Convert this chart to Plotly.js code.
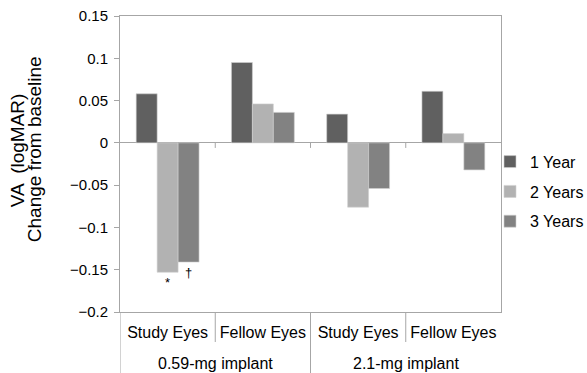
<!DOCTYPE html>
<html>
<head>
<meta charset="utf-8">
<script src="https://cdn.plot.ly/plotly-3.0.1.min.js"></script>
<style>html,body{margin:0;padding:0;background:#fff}#chart{width:587px;height:373px}</style>
</head>
<body>
<div id="chart"></div>
<script>
const implants = ["0.59-mg implant", "0.59-mg implant", "2.1-mg implant", "2.1-mg implant"];
const eyes = ["Study Eyes", "Fellow Eyes", "Study Eyes", "Fellow Eyes"];
const year1 = [0.058, 0.095, 0.034, 0.061];
const year2 = [-0.153, 0.046, -0.076, 0.011];
const year3 = [-0.141, 0.036, -0.054, -0.032];
const year2Marks = ["*", "", "", ""];
const year3Marks = ["\u2020", "", "", ""];
const seriesNames = ["1 Year", "2 Years", "3 Years"];
const colors = ["#606060", "#b2b2b2", "#828282"];
const yTitleLines = ["VA  (logMAR)", "Change from baseline"];

const font = "Arial, 'Liberation Sans', sans-serif";
const axisGrey = "#a6a6a6";
const idx = eyes.map((_, i) => i);

function bar(name, y, color, marks) {
  return {
    type: "bar", name: name, legendgroup: name, x: idx, y: y,
    marker: {color: color, line: {color: "#d0d0d0", width: 0.6}},
    text: marks || null, textposition: "outside", cliponaxis: false,
    outsidetextfont: {family: font, size: 13, color: "#000000"},
    textfont: {family: font, size: 13, color: "#000000"},
    hoverinfo: "y"
  };
}
const data = [
  bar(seriesNames[0], year1, colors[0]),
  bar(seriesNames[1], year2, colors[1], year2Marks),
  bar(seriesNames[2], year3, colors[2], year3Marks)
];

// category boundaries and group layout derived from the arrays
const bounds = [];
for (let i = 0; i <= eyes.length; i++) bounds.push(i - 0.5);
const groups = [];
implants.forEach((g, i) => {
  const last = groups[groups.length - 1];
  if (last && last.name === g) last.end = i; else groups.push({name: g, start: i, end: i});
});

const plotTop = 16, plotBottom = 312, H = 373;
const ph = plotBottom - plotTop;
const pyOf = px => (plotBottom - px) / ph;   // pixel row -> paper y

const shapes = [];
// group dividers (run to the bottom of the figure)
groups.forEach(g => {
  shapes.push({type: "line", xref: "x", yref: "paper", x0: g.start - 0.5, x1: g.start - 0.5,
    y0: 0, y1: pyOf(H), line: {color: axisGrey, width: 1}});
});
// separators between eyes inside a group
groups.forEach(g => {
  for (let i = g.start + 1; i <= g.end; i++) {
    shapes.push({type: "line", xref: "x", yref: "paper", x0: i - 0.5, x1: i - 0.5,
      y0: 0, y1: pyOf(342), line: {color: axisGrey, width: 1}});
  }
});
// small ticks on the zero line between categories
bounds.slice(1, -1).forEach(b => {
  shapes.push({type: "line", xref: "x", yref: "y", x0: b, x1: b, y0: 0, y1: -0.006,
    line: {color: axisGrey, width: 1}});
});

const annotations = groups.map(g => ({
  xref: "x", yref: "paper", x: (g.start + g.end) / 2, y: pyOf(373),
  xanchor: "center", yanchor: "bottom", text: g.name, showarrow: false, borderpad: 0,
  font: {family: font, size: 16, color: "#000"}
}));
annotations.push({
  xref: "paper", yref: "paper", x: (17 - 120) / 382, y: pyOf(150), xanchor: "center", yanchor: "middle",
  text: yTitleLines[0], textangle: -90, showarrow: false, font: {family: font, size: 19, color: "#000"}
});
annotations.push({
  xref: "paper", yref: "paper", x: (34 - 120) / 382, y: pyOf(149), xanchor: "center", yanchor: "middle",
  text: yTitleLines[1], textangle: -90, showarrow: false, font: {family: font, size: 19, color: "#000"}
});

const layout = {
  width: 587, height: 373,
  margin: {l: 120, r: 86, t: plotTop, b: H - plotBottom, autoexpand: false},
  paper_bgcolor: "#fff", plot_bgcolor: "#fff",
  font: {family: font, size: 14, color: "#000"},
  barmode: "group", bargap: 0.34, bargroupgap: 0,
  showlegend: true,
  legend: {xref: "container", yref: "container", x: 490 / 587, y: 1 - 191.7 / 373,
           xanchor: "left", yanchor: "middle", bgcolor: "rgba(0,0,0,0)",
           font: {family: font, size: 16, color: "#000"}, tracegroupgap: 6, itemwidth: 30},
  xaxis: {
    range: [-0.5, eyes.length - 0.5], tickvals: idx, ticktext: eyes, ticks: "",
    showline: true, linecolor: axisGrey, linewidth: 1, mirror: true, showgrid: false, zeroline: false,
    tickfont: {family: font, size: 16, color: "#000"}, ticklabelstandoff: 6
  },
  yaxis: {
    range: [-0.2, 0.15], dtick: 0.05, tick0: 0, showline: true, linecolor: axisGrey, mirror: true,
    ticks: "outside", ticklen: 5, tickcolor: axisGrey, showgrid: false,
    zeroline: true, zerolinecolor: axisGrey, zerolinewidth: 1,
    tickfont: {family: font, size: 15, color: "#000"}, ticklabelstandoff: 3
  },
  shapes: shapes,
  annotations: annotations
};
Plotly.newPlot("chart", data, layout, {displayModeBar: false, staticPlot: true});
</script>
</body>
</html>
